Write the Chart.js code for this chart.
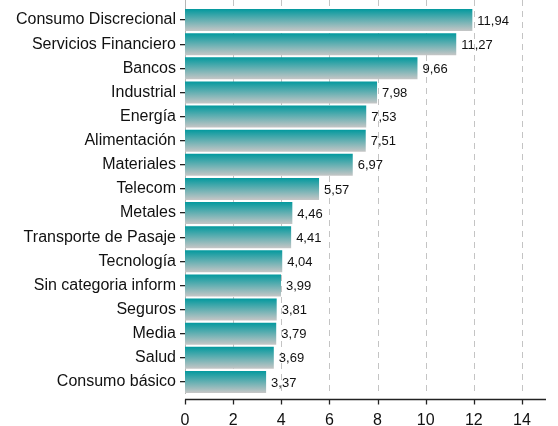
<!DOCTYPE html>
<html>
<head>
<meta charset="utf-8">
<script src="https://cdn.jsdelivr.net/npm/chart.js@4"></script>
<style>
  html, body { margin: 0; padding: 0; background: #fff; }
  #wrap { width: 558px; height: 426px; }
</style>
</head>
<body>
<div id="wrap"><canvas id="main-chart" width="558" height="426"></canvas></div>
<script>
// Sectors and weights (%)
const sectors = [
    "Consumo Discrecional", "Servicios Financiero", "Bancos", "Industrial",
    "Energía", "Alimentación", "Materiales", "Telecom", "Metales",
    "Transporte de Pasaje", "Tecnología", "Sin categoria inform",
    "Seguros", "Media", "Salud", "Consumo básico"
];
const weights = [11.94, 11.27, 9.66, 7.98, 7.53, 7.51, 6.97, 5.57, 4.46,
    4.41, 4.04, 3.99, 3.81, 3.79, 3.69, 3.37];
const xTicks = [0, 2, 4, 6, 8, 10, 12, 14];

const FONT = "'Liberation Sans', Arial, sans-serif";
const BAR_PCT = 0.91;

// Vertical gradient for each bar, built from the y scale
function barGradient(context) {
    const chart = context.chart;
    const y = chart.scales.y;
    if (!y || !chart.chartArea) {
        return "#03999e";
    }
    const pitch = (y.bottom - y.top) / sectors.length;
    const center = y.getPixelForValue(context.dataIndex);
    const h = pitch * BAR_PCT;
    const g = chart.ctx.createLinearGradient(0, center - h / 2, 0, center + h / 2);
    g.addColorStop(0, "#03999e");
    g.addColorStop(1, "#c6c6c6");
    return g;
}

// Dashed grid, bottom axis and value labels
const decorPlugin = {
    id: "decor",
    beforeDatasetsDraw(chart) {
        const ctx = chart.ctx;
        const area = chart.chartArea;
        const x = chart.scales.x;

        ctx.save();
        xTicks.forEach((v) => {
            const px = Math.round(x.getPixelForValue(v)) + 0.5;
            ctx.beginPath();
            ctx.lineWidth = 1;
            ctx.strokeStyle = v === 0 ? "#b5b5b5" : "#c4c4c4";
            ctx.setLineDash(v === 0 ? [] : [6, 5]);
            ctx.moveTo(px, 0);
            ctx.lineTo(px, area.bottom);
            ctx.stroke();
        });
        ctx.setLineDash([]);

        // bottom axis line + ticks
        const axisY = area.bottom + 5.5;
        ctx.strokeStyle = "#222";
        ctx.lineWidth = 1.3;
        ctx.beginPath();
        ctx.moveTo(x.getPixelForValue(0), axisY);
        ctx.lineTo(area.right, axisY);
        ctx.stroke();
        xTicks.forEach((v) => {
            const px = Math.round(x.getPixelForValue(v)) + 0.5;
            ctx.beginPath();
            ctx.moveTo(px, axisY);
            ctx.lineTo(px, axisY + 5);
            ctx.stroke();
        });
        ctx.restore();
    },
    afterDatasetsDraw(chart) {
        const ctx = chart.ctx;
        const meta = chart.getDatasetMeta(0);
        ctx.save();
        ctx.font = "13px " + FONT;
        ctx.fillStyle = "#111";
        ctx.textAlign = "left";
        ctx.textBaseline = "middle";
        meta.data.forEach((bar, i) => {
            ctx.fillText(weights[i].toFixed(2).replace(".", ","), bar.x + 5, bar.y + 1);
        });
        ctx.restore();
    }
};

const chartCanvas = document.getElementById("main-chart");

const sectorChart = new Chart(chartCanvas, {
    type: "bar",
    data: {
        labels: sectors,
        datasets: [
            {
                label: "Peso",
                data: weights,
                backgroundColor: barGradient,
                borderWidth: 0,
                categoryPercentage: 1,
                barPercentage: BAR_PCT,
            },
        ],
    },
    options: {
        indexAxis: "y",
        responsive: false,
        animation: false,
        layout: {
            padding: { top: 8, right: 12, left: 0, bottom: 0 },
        },
        plugins: {
            legend: { display: false },
            tooltip: { enabled: false },
        },
        scales: {
            x: {
                min: 0,
                max: 15,
                grid: { display: false },
                border: { display: false },
                afterBuildTicks: (scale) => {
                    scale.ticks = xTicks.map((v) => ({ value: v }));
                },
                afterFit: (scale) => {
                    scale.height = 32;
                    scale.paddingLeft = 0;
                    scale.paddingRight = 0;
                },
                ticks: {
                    padding: 9,
                    autoSkip: false,
                    maxRotation: 0,
                    color: "#111",
                    font: { family: FONT, size: 16 },
                },
            },
            y: {
                afterFit: (scale) => {
                    scale.width = 185;
                    scale.paddingTop = 0;
                    scale.paddingBottom = 0;
                },
                border: { display: false },
                grid: {
                    drawOnChartArea: false,
                    offset: false,
                    tickLength: 5,
                    color: "#222",
                    lineWidth: 1.3,
                },
                ticks: {
                    padding: 4,
                    color: "#111",
                    font: { family: FONT, size: 16 },
                },
            },
        },
    },
    plugins: [decorPlugin],
});
</script>
</body>
</html>
